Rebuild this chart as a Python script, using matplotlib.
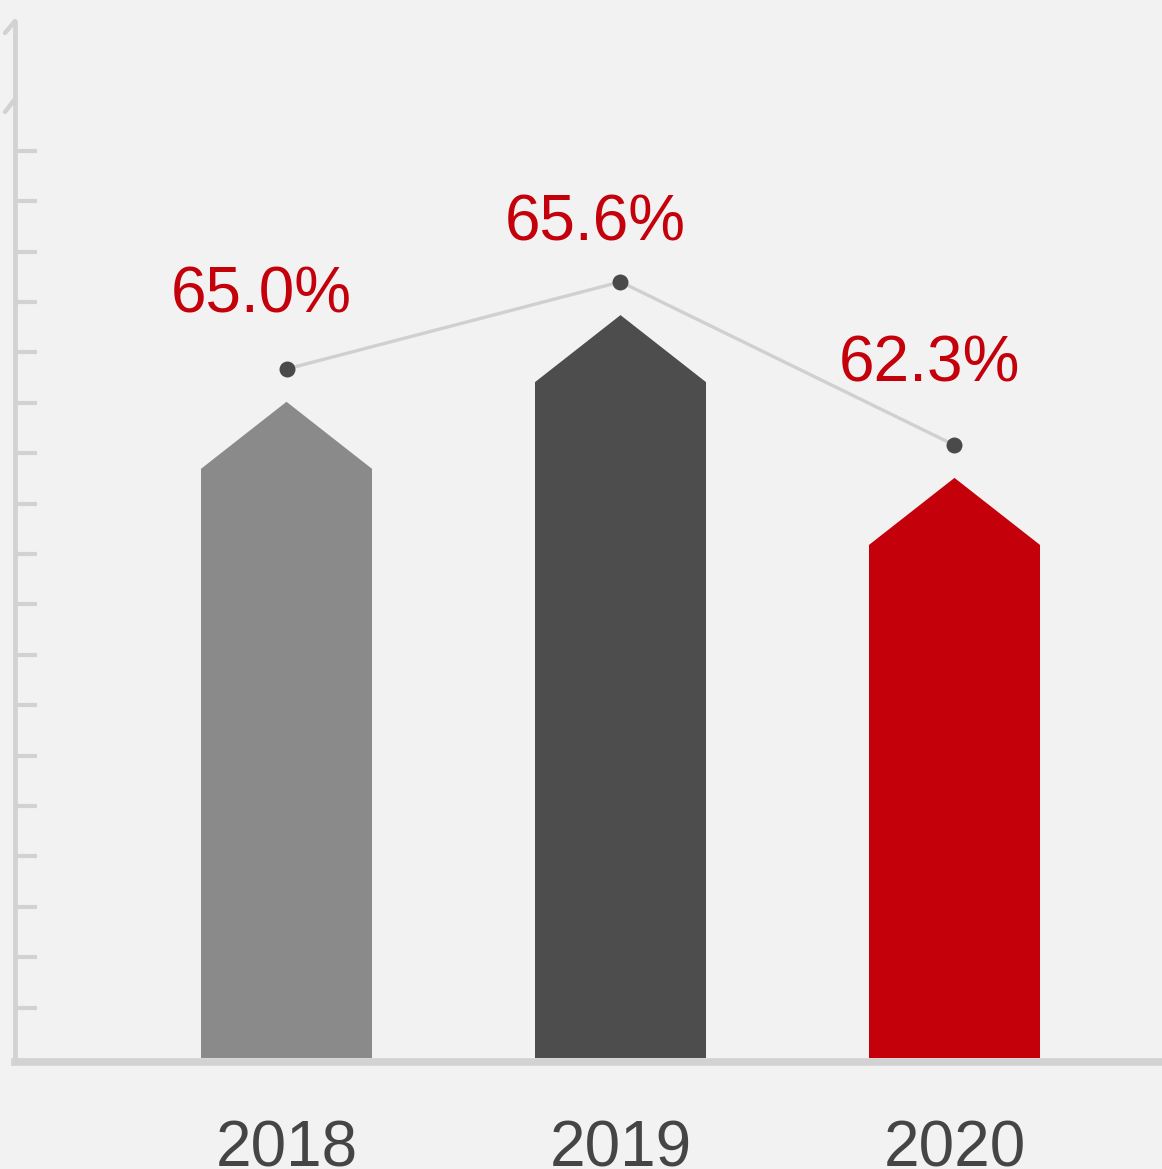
import matplotlib
matplotlib.use("Agg")
import matplotlib.pyplot as plt
from matplotlib.lines import Line2D

# ---- data ----
years = ["2018", "2019", "2020"]
rates = [65.0, 65.6, 62.3]                 # labelled values, %
bar_heights = [11.69, 13.41, 10.18]        # bar shoulder height, in axis tick units
marker_heights = [13.67, 15.40, 12.16]     # marker height, in axis tick units
label_lift = [1.13, 0.83, 1.27]            # label baseline above marker (layout)

bar_colors = ["#8a8a8a", "#4d4d4d", "#c4000b"]
label_color = "#c4000b"
year_color = "#454545"
axis_color = "#d2d2d2"
bg = "#f2f2f2"

W, H = 1162, 1169
fig = plt.figure(figsize=(W / 100, H / 100), dpi=100, facecolor=bg)
plt.rcParams["font.family"] = ["Liberation Sans", "DejaVu Sans"]

# axes: left spine at x=15px, bottom spine centre at y=1062px, top at y=20px
ax = fig.add_axes([15 / W, 107 / H, (W - 15) / W, (1149 - 107) / H])
ax.set_facecolor("none")
ax.set_xlim(-0.8129, 2.6213)
ax.set_ylim(-0.079, 20.595)

for s in ("top", "right"):
    ax.spines[s].set_visible(False)
ax.spines["left"].set_color(axis_color)
ax.spines["left"].set_linewidth(3.4)
ax.spines["bottom"].set_color(axis_color)
ax.spines["bottom"].set_linewidth(5.5)
ax.spines["left"].set_capstyle("butt")

ax.set_yticks(range(1, 19))
ax.tick_params(axis="y", direction="in", length=16, width=3, color=axis_color,
               labelleft=False)
ax.set_xticks([])

xs = list(range(len(years)))
bw = 0.512
tip = 1.33
for x, h, c in zip(xs, bar_heights, bar_colors):
    px = [x - bw / 2, x - bw / 2, x, x + bw / 2, x + bw / 2]
    py = [0, h, h + tip, h, 0]
    ax.fill(px, py, color=c, lw=0, zorder=1)

ax.plot(xs, marker_heights, color="#d0d0d0", lw=2.4, zorder=3,
        solid_capstyle="round")
ax.plot(xs, marker_heights, ls="none", marker="o", ms=11.5,
        color="#4a4a4a", mec="none", zorder=4)

for x, m, r, lift in zip(xs, marker_heights, rates, label_lift):
    ax.text(x - 0.075, m + lift, f"{r:.1f}%", color=label_color, fontsize=46,
            ha="center", va="baseline", zorder=5)

for x, y in zip(xs, years):
    ax.text(x, -2.16, y, color=year_color, fontsize=46, ha="center",
            va="baseline", clip_on=False)

# axis break marks near the top of the y axis
for (x0, y0, x1, y1) in [(15, 21, 5, 33), (15, 99, 5, 112)]:
    fig.add_artist(Line2D([x0 / W, x1 / W], [1 - y0 / H, 1 - y1 / H],
                          color=axis_color, lw=3.2, solid_capstyle="round"))

fig.savefig("out.png", dpi=100, facecolor=bg)
